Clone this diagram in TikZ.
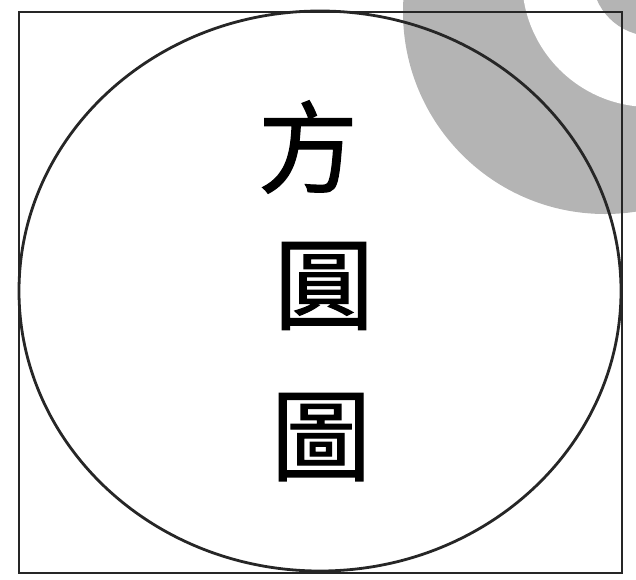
\documentclass[tikz,border=0pt]{standalone}
\usepackage{fontspec}
\newfontfamily\cjk{Noto Sans CJK TC}[FakeBold=1.2]
\usepackage{xcolor}
\definecolor{Stamp}{RGB}{180,180,180}

\begin{document}
\begin{tikzpicture}[x=1pt,y=-1pt,
  glyph/.style={font=\cjk\fontsize{100}{100}\selectfont, inner sep=0pt},
  frame/.style={line width=2.8pt, black!85}]
\useasboundingbox (0,0) rectangle (636,579);
%
% stamp in the corner
\begin{scope}
\clip (0,0) rectangle (636,579);
\fill[Stamp] (605,12) circle (202);
\fill[white] (650,-21) circle (128);
\fill[Stamp] (652,-24) circle (60);
\end{scope}
%
\draw[frame] (19,12) rectangle (622,573);
\draw[frame] (320,291) ellipse (301 and 280);
%
\node[glyph] (fang) at (308,147) {方};
\node[glyph] (yuan) at (324,286) {圓};
\node[glyph] (tu)   at (321,437) {圖};
%
\end{tikzpicture}
\end{document}
